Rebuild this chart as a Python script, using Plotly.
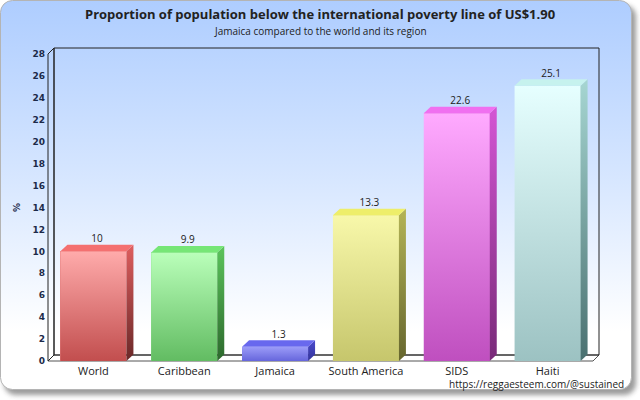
import base64
import plotly.graph_objects as go

# ---------------- data ----------------
categories = ["World", "Caribbean", "Jamaica", "South America", "SIDS", "Haiti"]
values = [10, 9.9, 1.3, 13.3, 22.6, 25.1]
y_tick_vals = list(range(0, 30, 2))
value_labels = ["10", "9.9", "1.3", "13.3", "22.6", "25.1"]

front_top = ["#ffabab", "#baffba", "#9c9cf8", "#f8f8aa", "#ffaaff", "#e6ffff"]
front_bottom = ["#c24e4e", "#62bc62", "#6666dc", "#c6c66c", "#bf4fbf", "#9cc2c2"]
front_mid = ["#e07c7c", "#8ede8e", "#8080ea", "#e0e08c", "#e07ce0", "#c2e0e0"]
top_color = ["#f47070", "#76e676", "#6868ee", "#eeee6a", "#f070f0", "#c6f2ee"]
side_top = ["#de5e5e", "#5cc45c", "#4a4acc", "#b4b456", "#d456d4", "#a6d6d2"]
side_bottom = ["#6a2828", "#2c682c", "#34349a", "#66662e", "#782a78", "#4a7070"]

title_text = "Proportion of population below the international poverty line of US$1.90"
subtitle_text = "Jamaica compared to the world and its region"
y_title = "%"
credit = "https://reggaesteem.com/@sustained"

# ---------------- geometry (pixels) ----------------
W, H = 640, 400
FX0, FX1 = 48, 593      # front left / right of the chart box
FY0, FY1 = 361, 54      # pixel of y=0 and y=28
Y_MAX = 28
L, R, T, B = 46, 39, 45, 37
ppc = (FX1 - FX0) / len(categories)
ppu = (FY0 - FY1) / Y_MAX
ox = 6 / ppc            # 3D depth offset in data units
oy = 6 / ppu
bx = 7 / ppc
by = 6.5 / ppu
bar_w = 66 / ppc

x_range = [-0.5 - (FX0 - L) / ppc, len(categories) - 0.5 + (W - R - FX1) / ppc]
y_range = [-(H - B - FY0) / ppu, Y_MAX + (FY1 - T) / ppu]
plot_w = W - L - R
plot_h = H - T - B


def px_to_paper_x(px):
    return (px - L) / plot_w


def px_to_paper_y(py):
    return (H - B - py) / plot_h


fig = go.Figure()

# front faces as real bars
fig.add_trace(go.Bar(
    x=list(range(len(categories))), y=values, width=bar_w,
    marker=dict(color=front_mid, line=dict(width=0)),
    hoverinfo="skip", showlegend=False,
))

for i, v in enumerate(values):
    x0 = i - bar_w / 2
    x1 = i + bar_w / 2
    # front gradient overlay
    fig.add_trace(go.Scatter(
        x=[x0, x1, x1, x0, x0], y=[0, 0, v, v, 0], mode="lines",
        line=dict(width=0), fill="toself",
        fillgradient=dict(type="vertical", colorscale=[[0, front_bottom[i]], [1, front_top[i]]],
                          start=0, stop=v),
        hoverinfo="skip", showlegend=False,
    ))
    # side face
    fig.add_trace(go.Scatter(
        x=[x1, x1 + bx, x1 + bx, x1, x1], y=[0, by, v + by, v, 0], mode="lines",
        line=dict(width=0), fill="toself",
        fillgradient=dict(type="vertical", colorscale=[[0, side_bottom[i]], [1, side_top[i]]],
                          start=0, stop=v + by),
        hoverinfo="skip", showlegend=False,
    ))
    # top face
    fig.add_trace(go.Scatter(
        x=[x0, x1, x1 + bx, x0 + bx, x0], y=[v, v, v + by, v + by, v], mode="lines",
        line=dict(width=0), fill="toself", fillcolor=top_color[i],
        hoverinfo="skip", showlegend=False,
    ))

# value labels
fig.add_trace(go.Scatter(
    x=[i + bx / 2 for i in range(len(values))], y=[v + by for v in values],
    mode="text", text=value_labels, textposition="top center",
    textfont=dict(family="Open Sans", size=10, color="#222222"),
    hoverinfo="skip", showlegend=False,
))

# 3D box (walls & floor)
xl, xr = -0.5, len(categories) - 0.5
shapes = [
    # floor
    dict(type="path", xref="x", yref="y", layer="below",
         path=f"M{xl},0 L{xr},0 L{xr + ox},{oy} L{xl + ox},{oy} Z",
         fillcolor="#ffffff", line=dict(color="#555555", width=1)),
    # back wall
    dict(type="rect", xref="x", yref="y", layer="below",
         x0=xl + ox, x1=xr + ox, y0=oy, y1=Y_MAX + oy,
         line=dict(color="#222222", width=1)),
    # left wall
    dict(type="path", xref="x", yref="y", layer="below",
         path=f"M{xl},0 L{xl},{Y_MAX} L{xl + ox},{Y_MAX + oy} L{xl + ox},{oy} Z",
         line=dict(color="#222222", width=1)),
]

# background frame as SVG
svg = f'''<svg xmlns="http://www.w3.org/2000/svg" width="{W}" height="{H}" viewBox="0 0 {W} {H}">
<defs>
<linearGradient id="g" x1="0" y1="0" x2="0" y2="1">
<stop offset="0" stop-color="#aecdff"/>
<stop offset="0.45" stop-color="#d6e6ff"/>
<stop offset="0.85" stop-color="#ffffff"/>
<stop offset="1" stop-color="#ffffff"/>
</linearGradient>
<filter id="s" x="-5%" y="-5%" width="110%" height="110%"><feGaussianBlur stdDeviation="2.5"/></filter>
</defs>
<rect x="0" y="0" width="{W}" height="{H}" fill="#ffffff"/>
<rect x="4" y="5" width="632" height="390" rx="12" fill="#666666" opacity="0.65" filter="url(#s)"/>
<rect x="0.5" y="0.5" width="631" height="389" rx="12" fill="url(#g)" stroke="#b4b4b4"/>
</svg>'''
svg_uri = "data:image/svg+xml;base64," + base64.b64encode(svg.encode()).decode()

annotations = [
    dict(text=f"<b>{title_text}</b>", xref="paper", yref="paper",
         x=px_to_paper_x(320), y=px_to_paper_y(14), xanchor="center", yanchor="middle",
         showarrow=False, font=dict(family="Open Sans", size=13, color="#222222")),
    dict(text=subtitle_text, xref="paper", yref="paper",
         x=px_to_paper_x(320), y=px_to_paper_y(31), xanchor="center", yanchor="middle",
         showarrow=False, font=dict(family="Open Sans", size=10, color="#222222")),
    dict(text=f"<b>{y_title}</b>", xref="paper", yref="paper", textangle=-90,
         x=px_to_paper_x(17), y=px_to_paper_y(208), xanchor="center", yanchor="middle",
         showarrow=False, font=dict(family="DejaVu Sans", size=9, color="#1c2a4a")),
    dict(text=credit, xref="paper", yref="paper",
         x=px_to_paper_x(626), y=px_to_paper_y(384), xanchor="right", yanchor="middle",
         showarrow=False, font=dict(family="Open Sans", size=10, color="#222222")),
]

fig.update_layout(
    width=W, height=H, autosize=False,
    margin=dict(l=L, r=R, t=T, b=B, pad=0),
    paper_bgcolor="#ffffff", plot_bgcolor="rgba(0,0,0,0)",
    showlegend=False, bargap=0,
    shapes=shapes, annotations=annotations,
    images=[dict(source=svg_uri, xref="paper", yref="paper",
                 x=-L / plot_w, y=1 + T / plot_h, sizex=W / plot_w, sizey=H / plot_h,
                 xanchor="left", yanchor="top", sizing="stretch", layer="below")],
    xaxis=dict(range=x_range, tickvals=list(range(len(categories))), ticktext=categories,
               showgrid=False, zeroline=False, showline=False, ticks="",
               tickfont=dict(family="Open Sans", size=11, color="#222222"), fixedrange=True),
    yaxis=dict(range=y_range, tickvals=y_tick_vals, ticktext=[str(t) for t in y_tick_vals],
               showgrid=False, zeroline=False, showline=False, ticks="",
               tickfont=dict(family="DejaVu Sans", size=9, color="#1c2a4a", weight="bold"),
               fixedrange=True),
)

fig.write_html(
    "out.html",
    config={"displayModeBar": False},
    post_script="document.body.style.margin='0';document.body.style.overflow='hidden';",
)
